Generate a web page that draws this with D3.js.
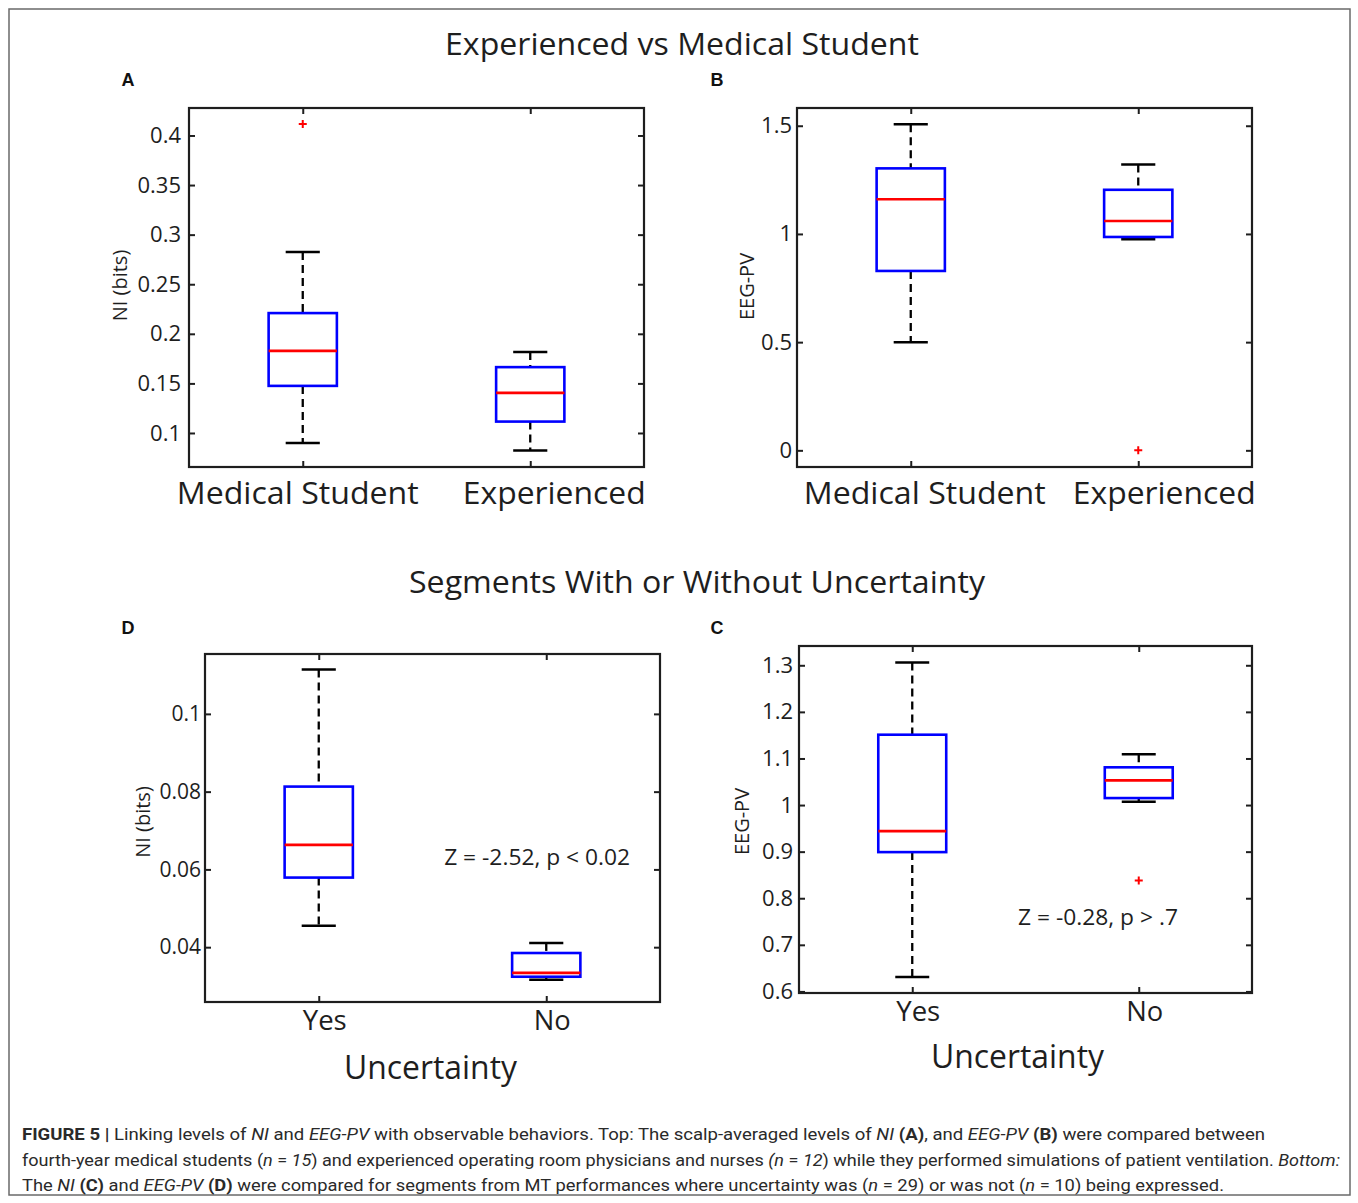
<!DOCTYPE html>
<html>
<head>
<meta charset="utf-8">
<script src="https://cdn.jsdelivr.net/npm/d3@7"></script>
<style>
  html, body { margin: 0; padding: 0; background: #fff; }
  svg { display: block; }
</style>
</head>
<body>
<svg id="chart" width="1358" height="1203"></svg>
<script>
// ---------------- DATA ----------------
const topTitle = "Experienced vs Medical Student";
const bottomTitle = "Segments With or Without Uncertainty";

const catsTop = ["Medical Student", "Experienced"];
const catsBottom = ["Yes", "No"];

// five-number summaries: [lowerWhisker, Q1, median, Q3, upperWhisker]
const statsA_NI = [
  [0.0899, 0.1475, 0.1828, 0.2209, 0.2825],
  [0.0824, 0.1115, 0.1404, 0.1664, 0.1817]
];
const outliersA_NI = [[0.4115], []];
const ticksA = [0.1, 0.15, 0.2, 0.25, 0.3, 0.35, 0.4];

const statsB_EEG = [
  [0.500, 0.829, 1.160, 1.303, 1.507],
  [0.975, 0.986, 1.060, 1.204, 1.321]
];
const outliersB_EEG = [[], [0.0]];
const ticksB = [0, 0.5, 1, 1.5];

const statsD_NI = [
  [0.0455, 0.0579, 0.0663, 0.0813, 0.1114],
  [0.0316, 0.0324, 0.0334, 0.0385, 0.0411]
];
const outliersD_NI = [[], []];
const ticksD = [0.04, 0.06, 0.08, 0.1];

const statsC_EEG = [
  [0.631, 0.899, 0.944, 1.151, 1.306],
  [1.007, 1.015, 1.053, 1.081, 1.109]
];
const outliersC_EEG = [[], [0.838]];
const ticksC = [0.6, 0.7, 0.8, 0.9, 1, 1.1, 1.2, 1.3];

const annotD = "Z = -2.52, p < 0.02";
const annotC = "Z = -0.28, p > .7";

// ---------------- LAYOUT ----------------
const svg = d3.select("#chart");
const FONT = "'Open Sans', 'Noto Sans', sans-serif";
const INK = "#1e1e1e";

// outer frame
svg.append("rect").attr("x", 9).attr("y", 9).attr("width", 1341).attr("height", 1186)
  .attr("fill", "none").attr("stroke", "#6a6a6a").attr("stroke-width", 1.5);

function title(text, cx, cy, w) {
  svg.append("text").attr("x", cx).attr("y", cy).attr("text-anchor", "middle")
    .attr("dominant-baseline", "central")
    .attr("font-family", FONT).attr("font-size", 31).attr("fill", INK)
    .attr("textLength", w).attr("lengthAdjust", "spacingAndGlyphs")
    .text(text);
}
title(topTitle, 682, 43, 474);
title(bottomTitle, 697, 581, 576);

function letter(t, x, y) {
  svg.append("text").attr("x", x).attr("y", y).attr("text-anchor", "middle")
    .attr("dominant-baseline", "central")
    .attr("font-family", "'Liberation Sans', Arial, sans-serif").attr("font-weight", "bold")
    .attr("font-size", 18).attr("fill", "#111").text(t);
}
letter("A", 128, 80);
letter("B", 717, 80);
letter("D", 128, 628);
letter("C", 717, 628);

function panel(cfg) {
  const g = svg.append("g");
  const x = d3.scaleLinear().domain([0.5, cfg.cats.length + 0.5]).range([cfg.left, cfg.right]);
  const y = d3.scaleLinear().domain(cfg.yDomain).range([cfg.bottom, cfg.top]);
  const idx = cfg.cats.map((c, i) => i + 1);
  const fmt = d3.format("~g");

  // axes (inward ticks on all four sides)
  const axL = g.append("g").attr("transform", `translate(${cfg.left},0)`)
    .call(d3.axisLeft(y).tickValues(cfg.ticks).tickSize(-6).tickPadding(cfg.tickPad).tickFormat(fmt));
  const axR = g.append("g").attr("transform", `translate(${cfg.right},0)`)
    .call(d3.axisRight(y).tickValues(cfg.ticks).tickSize(-6).tickFormat(""));
  const axT = g.append("g").attr("transform", `translate(0,${cfg.top})`)
    .call(d3.axisTop(x).tickValues(idx).tickSize(-6).tickFormat(""));
  const axB = g.append("g").attr("transform", `translate(0,${cfg.bottom})`)
    .call(d3.axisBottom(x).tickValues(idx).tickSize(-6).tickFormat(""));
  [axL, axR, axT, axB].forEach(a => {
    a.select(".domain").remove();
    a.selectAll(".tick line").attr("stroke", INK).attr("stroke-width", 2);
  });
  axL.selectAll(".tick text").attr("font-family", FONT).attr("font-size", cfg.tickSize)
    .attr("fill", INK);

  // frame
  g.append("rect").attr("x", cfg.left).attr("y", cfg.top)
    .attr("width", cfg.right - cfg.left).attr("height", cfg.bottom - cfg.top)
    .attr("fill", "none").attr("stroke", INK).attr("stroke-width", 2.2);

  const hw = 0.15, cw = 0.075;
  cfg.stats.forEach((s, i) => {
    const c = i + 1;
    const [lw, q1, med, q3, uw] = s;
    // whiskers (dashed)
    g.append("line").attr("x1", x(c)).attr("x2", x(c)).attr("y1", y(uw)).attr("y2", y(q3))
      .attr("stroke", "#000").attr("stroke-width", 2.3).attr("stroke-dasharray", "8,5");
    g.append("line").attr("x1", x(c)).attr("x2", x(c)).attr("y1", y(q1)).attr("y2", y(lw))
      .attr("stroke", "#000").attr("stroke-width", 2.3).attr("stroke-dasharray", "8,5");
    // caps
    [lw, uw].forEach(v => {
      g.append("line").attr("x1", x(c - cw)).attr("x2", x(c + cw)).attr("y1", y(v)).attr("y2", y(v))
        .attr("stroke", "#000").attr("stroke-width", 2.5);
    });
    // box
    g.append("rect").attr("x", x(c - hw)).attr("y", y(q3))
      .attr("width", x(c + hw) - x(c - hw)).attr("height", y(q1) - y(q3))
      .attr("fill", "none").attr("stroke", "#0000ff").attr("stroke-width", 2.6);
    // median
    g.append("line").attr("x1", x(c - hw)).attr("x2", x(c + hw)).attr("y1", y(med)).attr("y2", y(med))
      .attr("stroke", "#ff0000").attr("stroke-width", 2.6);
    // outliers
    cfg.outliers[i].forEach(v => {
      g.append("path")
        .attr("d", `M${x(c) - 4},${y(v)}H${x(c) + 4}M${x(c)},${y(v) - 4}V${y(v) + 4}`)
        .attr("stroke", "#ff0000").attr("stroke-width", 2);
    });
  });

  // category labels
  cfg.cats.forEach((name, i) => {
    g.append("text").attr("x", x(i + 1) + cfg.labelDx[i]).attr("y", cfg.bottom + cfg.labelDy)
      .attr("text-anchor", "middle").attr("dominant-baseline", "central")
      .attr("font-family", FONT).attr("font-size", cfg.labelSize).attr("fill", INK)
      .attr("textLength", cfg.labelW[i]).attr("lengthAdjust", "spacingAndGlyphs")
      .text(name);
  });

  // y label
  g.append("text").attr("transform", `translate(${cfg.yLabelX},${(cfg.top + cfg.bottom) / 2 + cfg.yLabelDy}) rotate(-90)`)
    .attr("text-anchor", "middle").attr("dominant-baseline", "central")
    .attr("font-family", FONT).attr("font-size", 20).attr("fill", INK)
    .text(cfg.yLabel);

  if (cfg.xTitle) {
    g.append("text").attr("x", (cfg.left + cfg.right) / 2 + cfg.xTitleDx).attr("y", cfg.bottom + cfg.xTitleDy)
      .attr("text-anchor", "middle").attr("dominant-baseline", "central")
      .attr("font-family", FONT).attr("font-size", 32).attr("fill", INK)
      .attr("textLength", 173).attr("lengthAdjust", "spacingAndGlyphs")
      .text(cfg.xTitle);
  }
  if (cfg.annot) {
    g.append("text").attr("x", x(cfg.annot.xv)).attr("y", y(cfg.annot.yv))
      .attr("text-anchor", "middle").attr("dominant-baseline", "central")
      .attr("font-family", FONT).attr("font-size", 21).attr("fill", INK)
      .attr("textLength", cfg.annot.w).attr("lengthAdjust", "spacingAndGlyphs")
      .text(cfg.annot.text);
  }
}

panel({
  left: 189, right: 644, top: 108, bottom: 467, yDomain: [0.0657, 0.4277],
  cats: catsTop, stats: statsA_NI, outliers: outliersA_NI, ticks: ticksA,
  tickPad: 8, tickSize: 22,
  labelDx: [-5, 24], labelDy: 25, labelSize: 31, labelW: [242, 183],
  yLabel: "NI (bits)", yLabelX: 119, yLabelDy: -2
});
panel({
  left: 797, right: 1252, top: 108, bottom: 467, yDomain: [-0.077, 1.582],
  cats: catsTop, stats: statsB_EEG, outliers: outliersB_EEG, ticks: ticksB,
  tickPad: 5, tickSize: 22,
  labelDx: [14, 26], labelDy: 25, labelSize: 31, labelW: [242, 183],
  yLabel: "EEG-PV", yLabelX: 746, yLabelDy: -1
});
panel({
  left: 205, right: 660, top: 654, bottom: 1002, yDomain: [0.0259, 0.1154],
  cats: catsBottom, stats: statsD_NI, outliers: outliersD_NI, ticks: ticksD,
  tickPad: 4, tickSize: 21,
  labelDx: [6, 6], labelDy: 17, labelSize: 28, labelW: [44, 37],
  yLabel: "NI (bits)", yLabelX: 142, yLabelDy: -6,
  xTitle: "Uncertainty", xTitleDx: -2, xTitleDy: 64,
  annot: { text: annotD, xv: 1.96, yv: 0.0633, w: 186 }
});
panel({
  left: 799, right: 1252, top: 646, bottom: 993, yDomain: [0.5966, 1.3414],
  cats: catsBottom, stats: statsC_EEG, outliers: outliersC_EEG, ticks: ticksC,
  tickPad: 6, tickSize: 22,
  labelDx: [6, 6], labelDy: 17, labelSize: 28, labelW: [44, 37],
  yLabel: "EEG-PV", yLabelX: 741, yLabelDy: 2,
  xTitle: "Uncertainty", xTitleDx: -8, xTitleDy: 62,
  annot: { text: annotC, xv: 1.82, yv: 0.760, w: 160 }
});

// ---------------- CAPTION ----------------
const captionLines = [
  [["FIGURE 5 | ", "b"], ["Linking levels of ", ""], ["NI", "i"], [" and ", ""], ["EEG-PV", "i"],
   [" with observable behaviors. Top: The scalp-averaged levels of ", ""], ["NI", "i"], [" ", ""], ["(A)", "b"],
   [", and ", ""], ["EEG-PV", "i"], [" ", ""], ["(B)", "b"], [" were compared between", ""]],
  [["fourth-year medical students (", ""], ["n", "i"], [" = ", ""], ["15", "i"], [") and experienced operating room physicians and nurses ", ""],
   ["(n", "i"], [" = ", ""], ["12", "i"], [") while they performed simulations of patient ventilation. ", ""], ["Bottom:", "i"]],
  [["The ", ""], ["NI", "i"], [" ", ""], ["(C)", "b"], [" and ", ""], ["EEG-PV", "i"], [" ", ""], ["(D)", "b"],
   [" were compared for segments from MT performances where uncertainty was (", ""], ["n", "i"], [" = 29) or was not (", ""],
   ["n", "i"], [" = 10) being expressed.", ""]]
];
const captionWidths = [1243, 1318, 1202];
const captionY = [1140, 1166, 1191];
captionLines.forEach((parts, li) => {
  const t = svg.append("text").attr("x", 22).attr("y", captionY[li])
    .attr("font-family", "'Liberation Sans Narrow', 'Roboto', 'Liberation Sans', sans-serif")
    .attr("font-size", 17).attr("fill", "#2a2a2a")
    .attr("textLength", captionWidths[li]).attr("lengthAdjust", "spacingAndGlyphs");
  parts.forEach(([s, st]) => {
    const ts = t.append("tspan").text(s);
    if (st === "b") ts.attr("font-weight", "bold");
    if (st === "i") ts.attr("font-style", "italic");
  });
});
</script>
</body>
</html>
